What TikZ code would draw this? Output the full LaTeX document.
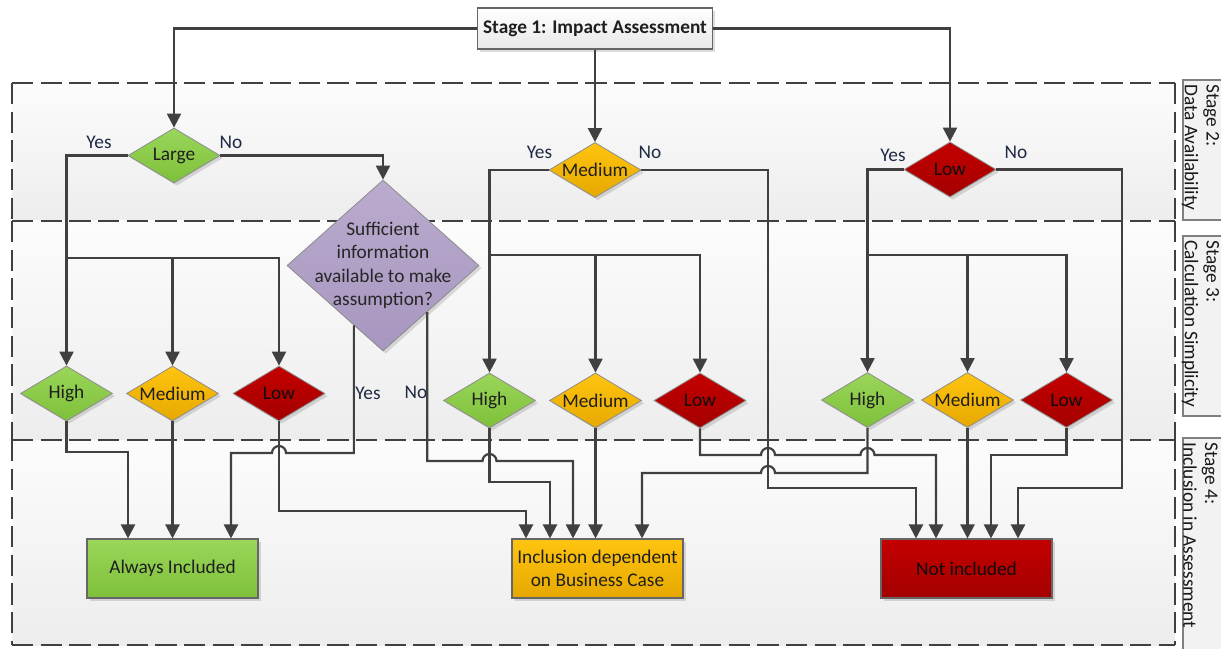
\documentclass[tikz,border=0pt]{standalone}
\usepackage{fontspec}
\setmainfont{Carlito}
\usetikzlibrary{shapes.geometric,arrows.meta,calc,shadows}
\definecolor{lc}{HTML}{404040}
\definecolor{labc}{HTML}{1F2A44}
\definecolor{gr1}{HTML}{9AD65A}
\definecolor{gr2}{HTML}{7EC03A}
\definecolor{ye1}{HTML}{FFC410}
\definecolor{ye2}{HTML}{E6A800}
\definecolor{re1}{HTML}{C40000}
\definecolor{re2}{HTML}{A30000}
\definecolor{la1}{HTML}{BAABCE}
\definecolor{la2}{HTML}{A796BF}
\definecolor{rg1}{HTML}{FCFCFC}
\definecolor{rg2}{HTML}{EDEDED}
\tikzset{
  arr/.style={draw=lc, line width=1.65pt, -{Triangle[length=10.5pt,width=10.5pt]}},
  region/.style={draw=lc, line width=1.5pt, dash pattern=on 16pt off 5.5pt},
  shad/.style={drop shadow={shadow xshift=2pt, shadow yshift=-2pt, opacity=0.22, fill=black!60}},
  diam/.style={shape=diamond, shape aspect=1.67, draw=black!45, line width=0.6pt, inner sep=0pt,
    minimum width=69pt, minimum height=41.25pt, text=black!88, shad},
  grn/.style={top color=gr1, bottom color=gr2},
  yel/.style={top color=ye1, bottom color=ye2},
  red/.style={top color=re1, bottom color=re2, text=black!95},
  outbox/.style={draw=black!60, line width=0.8pt, minimum width=128.25pt, minimum height=44.25pt,
    inner sep=0pt, align=center, text=black!88, shad},
  lab/.style={text=labc, inner sep=0pt},
  stagelab/.style={rotate=-90, anchor=west, align=left, inner sep=0pt, text=black!90,
    font=\fontsize{14.5}{16.3}\selectfont},
  lblbox/.style={draw=black!50, line width=0.8pt, fill=black!5}
}
\begin{document}
\begin{tikzpicture}[x=0.75pt,y=-0.75pt,font=\fontsize{14.5}{17.5}\selectfont]
\useasboundingbox (0,0) rectangle (1221,649);
\clip (0,0) rectangle (1221,649);

% stage regions
\shade[top color=rg1, bottom color=rg2] (12,83) rectangle (1175,221);
\shade[top color=rg1, bottom color=rg2] (12,221) rectangle (1175,440);
\shade[top color=rg1, bottom color=rg2] (12,440) rectangle (1175,645);
\draw[region] (12,83) -- (1175,83);
\draw[region] (12,221) -- (1175,221);
\draw[region] (12,440) -- (1175,440);
\draw[region] (12,645) -- (1175,645);
\draw[region] (12,83) -- (12,221);
\draw[region] (12,221) -- (12,440);
\draw[region] (12,440) -- (12,645);
\draw[region] (1175,83) -- (1175,221);
\draw[region] (1175,221) -- (1175,440);
\draw[region] (1175,440) -- (1175,645);

% stage labels
\draw[lblbox] (1183,80) rectangle (1240,220);
\draw[lblbox] (1183,236) rectangle (1240,416);
\draw[lblbox] (1183,438) rectangle (1240,660);
\node[stagelab] (l2) at (1200.5,84) {Stage 2:\\Data Availability};
\node[stagelab] (l3) at (1200.5,240) {Stage 3:\\Calculation Simplicity};
\node[stagelab] (l4) at (1200.5,442) {Stage 4:\\Inclusion in Assessment};

% stage 1
\node[draw=black!60, line width=0.8pt, top color=white, bottom color=black!9,
  minimum width=176.25pt, minimum height=30.75pt, inner sep=0pt, shad,
  font=\fontsize{14.5}{17}\selectfont\bfseries, text=black!88] (s1) at (595,28.5) {Stage 1: Impact Assessment};

% stage 2 diamonds
\node[diam,grn] (dL) at (174,155.5) {Large};
\node[diam,yel] (dM) at (595,170) {Medium};
\node[diam,red] (dLo) at (950,169.5) {Low};

% sufficient information diamond
\node[shape=diamond, draw=black!45, line width=0.6pt, top color=la1, bottom color=la2,
  minimum width=144pt, minimum height=128.25pt, inner sep=0pt, shad] (suf) at (383,265.5) {};
\node[align=center, inner sep=0pt, text=black!85] (suft) at (suf.center)
  {Sufficient\\information\\available to make\\assumption?};

% stage 3 diamonds
\node[diam,grn] (aH) at (66.5,393.5) {High};
\node[diam,yel] (aM) at (172.5,393.5) {Medium};
\node[diam,red] (aL) at (279,393.5) {Low};
\node[diam,grn] (bH) at (489.5,400.5) {High};
\node[diam,yel] (bM) at (595.5,400.5) {Medium};
\node[diam,red] (bL) at (700,400.5) {Low};
\node[diam,grn] (cH) at (867.5,400) {High};
\node[diam,yel] (cM) at (967.5,400) {Medium};
\node[diam,red] (cL) at (1066.5,400) {Low};

% stage 4 boxes
\node[outbox,grn] (inc) at (172.5,568.5) {Always Included};
\node[outbox,yel] (dep) at (597.5,568.5) {Inclusion dependent\\on Business Case};
\node[outbox,red] (notinc) at (966.5,568.5) {Not included};

% yes / no labels
\node[lab] (y1) at (99,142) {Yes};
\node[lab] (n1) at (231,142) {No};
\node[lab] (y2) at (539.5,152) {Yes};
\node[lab] (n2) at (650,152) {No};
\node[lab] (y3) at (893,155) {Yes};
\node[lab] (n3) at (1016,152) {No};
\node[lab] (y4) at (368,393) {Yes};
\node[lab] (n4) at (416,392) {No};

% stage 1 -> stage 2
\draw[arr] (s1.west) -| (dL.north);
\draw[arr] (s1.south) -- (dM.north);
\draw[arr] (s1.east) -| (dLo.north);

% stage 2 -> stage 3
\draw[arr] (dL.west) -| (aH.north);
\draw[arr] (dL.east) -| (suf.north);
\draw[arr] (dM.west) -| (bH.north);
\draw[arr] (dLo.west) -| (cH.north);
\coordinate (ja) at (aH.north |- 0,258);
\coordinate (jb) at (bH.north |- 0,255);
\coordinate (jc) at (cH.north |- 0,255);
\draw[arr] (ja) -| (aL.north);
\draw[arr] (ja -| aM.north) -- (aM.north);
\draw[arr] (jb) -| (bL.north);
\draw[arr] (jb -| bM.north) -- (bM.north);
\draw[arr] (jc) -| (cL.north);
\draw[arr] (jc -| cM.north) -- (cM.north);

% to Always Included
\draw[arr] (aH.south) |- (128,452) -- (128,0 |- inc.north);
\draw[arr] (aM.south) -- (aM.south |- inc.north);
\draw[arr] ($(suf.south)!0.302!(suf.west)$) coordinate (sy) -- (sy |- 0,453) -- (286,453)
  arc[start angle=0,end angle=180,radius=5.25pt] -- (231,453) -- (231,0 |- inc.north);

% to Inclusion dependent
\draw[arr] (aL.south) |- (526,511) -- (526,0 |- dep.north);
\draw[arr] (bH.south) |- (550,482) -- (550,0 |- dep.north);
\draw[arr] ($(suf.south)!0.458!(suf.east)$) coordinate (sn) -- (sn |- 0,461) -- (482.5,461)
  arc[start angle=180,end angle=0,radius=5.25pt] -- (573,461) -- (573,0 |- dep.north);
\draw[arr] (bM.south) -- (bM.south |- dep.north);
\draw[arr] (cH.south) |- (775,473) arc[start angle=0,end angle=180,radius=5.25pt]
  -- (642,473) -- (642,0 |- dep.north);

% to Not included
\draw[arr] (dM.east) -| (768,488) -- (916,488) -- (916,0 |- notinc.north);
\draw[arr] (bL.south) |- (761,455) arc[start angle=180,end angle=0,radius=5.25pt]
  -- (860.5,455) arc[start angle=180,end angle=0,radius=5.25pt] -- (936,455) -- (936,0 |- notinc.north);
\draw[arr] (cM.south) -- (cM.south |- notinc.north);
\draw[arr] (cL.south) |- (991,455) -- (991,0 |- notinc.north);
\draw[arr] (dLo.east) -| (1122,488) -- (1018,488) -- (1018,0 |- notinc.north);
\end{tikzpicture}
\end{document}
